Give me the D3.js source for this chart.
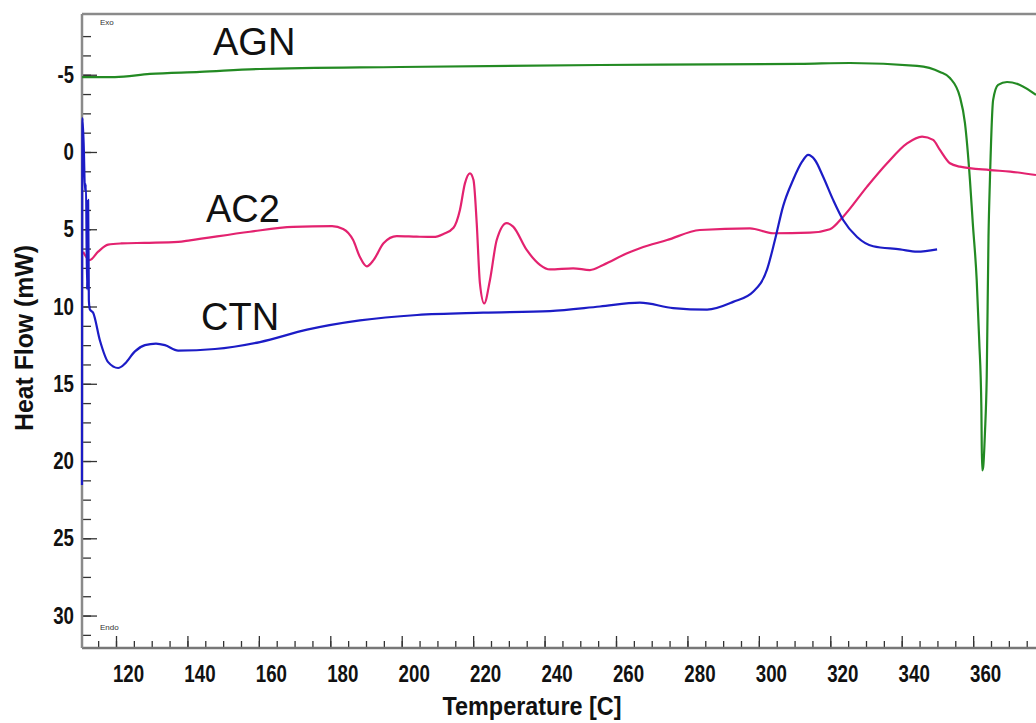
<!DOCTYPE html>
<html lang="en">
<head>
<meta charset="utf-8">
<title>DSC curves</title>
<script src="https://d3js.org/d3.v7.min.js"></script>
<style>
  body { margin: 0; background: #fff; }
  svg { display: block; }
  .tick text { font-family: "Liberation Sans", Arial, sans-serif; font-weight: bold; font-size: 23.5px; fill: #111; }
  .title { font-family: "Liberation Sans", Arial, sans-serif; font-weight: bold; fill: #111; }
  .series { font-family: "Liberation Sans", Arial, sans-serif; font-size: 38px; fill: #111; }
  .tiny { font-family: "Liberation Sans", Arial, sans-serif; font-size: 8px; fill: #333; }
</style>
</head>
<body>
<script>
// values: temperature (C) and heat flow (mW)
const agnTemp = [110.5, 119.7, 129.5, 143.5, 160.3, 199.5, 255.5, 311.5, 325.5, 344.3, 350.7, 353.5, 356.3, 357.7, 359.1, 359.9, 361.0, 361.7, 362.3, 362.5, 362.8, 363.3, 363.8, 364.3, 364.7, 365.6, 367.0, 369.5, 373.1, 377.6];
const agnFlow = [-4.85, -4.85, -5.05, -5.18, -5.37, -5.5, -5.63, -5.7, -5.76, -5.57, -5.18, -4.79, -3.56, -1.88, 1.8, 4.6, 8.3, 12.2, 16.5, 20.6, 20.4, 18.2, 14.6, 5.5, 1.8, -3.37, -4.34, -4.53, -4.34, -3.69];

const ac2Temp = [110.8, 112.6, 115.0, 117.8, 121.5, 128.0, 137.4, 140.7, 157.5, 169.6, 180.5, 183.6, 186.4, 188.3, 190.2, 192.1, 194.9, 198.6, 204.2, 208.9, 211.7, 214.5, 216.3, 217.7, 219.1, 220.1, 221.0, 221.9, 223.1, 224.7, 226.6, 229.4, 231.2, 235.0, 238.7, 241.5, 248.0, 252.7, 256.4, 263.1, 266.7, 274.3, 283.5, 297.5, 304.0, 314.3, 319.9, 323.6, 330.3, 335.9, 341.5, 345.7, 348.8, 350.7, 353.5, 356.3, 364.7, 370.4, 377.6];
const ac2Flow = [6.45, 7.0, 6.45, 6.0, 5.92, 5.88, 5.82, 5.72, 5.16, 4.85, 4.8, 4.98, 5.7, 6.8, 7.4, 7.0, 5.9, 5.44, 5.48, 5.5, 5.3, 4.9, 3.75, 2.03, 1.38, 1.81, 4.6, 8.5, 9.8, 8.3, 5.7, 4.6, 4.83, 6.34, 7.3, 7.6, 7.53, 7.64, 7.31, 6.56, 6.23, 5.7, 5.05, 4.94, 5.26, 5.22, 5.0, 4.19, 2.24, 0.73, -0.56, -1.0, -0.78, -0.13, 0.73, 0.95, 1.17, 1.27, 1.49];

const ctnTemp = [110.48, 110.6, 111.0, 111.3, 111.6, 111.9, 112.2, 112.4, 112.7, 113.6, 115.5, 117.8, 120.6, 122.5, 125.3, 128.1, 131.2, 133.7, 137.4, 147.7, 160.3, 173.5, 188.3, 204.3, 222.8, 241.5, 255.5, 266.7, 276.0, 285.5, 292.8, 298.4, 302.3, 304.5, 306.8, 309.6, 312.1, 313.8, 315.7, 318.0, 320.8, 323.6, 327.5, 332.0, 339.5, 344.3, 349.9];
const ctnFlow = [21.55, -2.2, -0.13, 2.46, 2.1, 8.9, 3.1, 9.6, 10.2, 10.4, 12.2, 13.6, 13.98, 13.7, 12.9, 12.5, 12.4, 12.5, 12.85, 12.75, 12.3, 11.5, 10.9, 10.55, 10.4, 10.3, 10.0, 9.75, 10.1, 10.2, 9.7, 9.04, 7.6, 5.7, 3.5, 1.8, 0.63, 0.19, 0.52, 1.6, 3.1, 4.4, 5.5, 6.1, 6.3, 6.45, 6.3];

const xLabels = [120, 140, 160, 180, 200, 220, 240, 260, 280, 300, 320, 340, 360];
const xMinor = d3.range(115, 376, 5);
const yLabels = [-5, 0, 5, 10, 15, 20, 25, 30];
const yMinor = d3.range(-7.5, 31.3, 1.25);

const seriesNames = ["AGN", "AC2", "CTN"];
const seriesColors = ["#238a23", "#e3226f", "#1c1cc6"];

const width = 1036, height = 723;
const plotLeft = 82, plotTop = 14, plotBottom = 648, plotRight = 1036;

const svg = d3.select("body").append("svg")
  .attr("width", width)
  .attr("height", height);

const x = d3.scaleLinear().domain([110.48, 377.6]).range([plotLeft, plotRight]);
const y = d3.scaleLinear().domain([-8.93, 32.1]).range([plotTop, plotBottom]);

// narrow numbers like the instrument software font
function squeeze(sel) {
  sel.each(function () {
    const s = this.textContent;
    const w = s.replace("-", "").length * 10.4 + (s.includes("-") ? 6 : 0);
    d3.select(this).attr("textLength", w).attr("lengthAdjust", "spacingAndGlyphs");
  });
}

// frame
svg.append("line").attr("x1", plotLeft).attr("x2", plotRight).attr("y1", plotTop).attr("y2", plotTop)
  .attr("stroke", "#8a8a8a").attr("stroke-width", 2.5);

// minor ticks
const xMinorAxis = svg.append("g").attr("transform", `translate(0,${plotBottom})`)
  .call(d3.axisBottom(x).tickValues(xMinor).tickSize(-7).tickFormat(""));
const yMinorAxis = svg.append("g").attr("transform", `translate(${plotLeft},0)`)
  .call(d3.axisLeft(y).tickValues(yMinor).tickSize(-9).tickFormat(""));

// major ticks with labels
const xAxis = svg.append("g").attr("transform", `translate(0,${plotBottom})`)
  .call(d3.axisBottom(x).tickValues(xLabels).tickSize(-12).tickPadding(17).tickFormat(d3.format("d")));
xAxis.selectAll(".tick text").attr("dx", 12).call(squeeze);
const yAxis = svg.append("g").attr("transform", `translate(${plotLeft},0)`)
  .call(d3.axisLeft(y).tickValues(yLabels).tickSize(-15).tickPadding(8).tickFormat(d => d < 0 ? "-" + Math.abs(d) : d));
yAxis.selectAll(".tick text").call(squeeze);

[xMinorAxis, yMinorAxis, xAxis, yAxis].forEach(g => {
  g.select(".domain").remove();
  g.selectAll(".tick line").attr("stroke", "#333").attr("stroke-width", 1.3);
});

// axis lines
svg.append("line").attr("x1", plotLeft).attr("x2", plotRight).attr("y1", plotBottom).attr("y2", plotBottom)
  .attr("stroke", "#777").attr("stroke-width", 2.5);
svg.append("line").attr("x1", plotLeft).attr("x2", plotLeft).attr("y1", plotTop).attr("y2", plotBottom)
  .attr("stroke", "#8a8a8a").attr("stroke-width", 2.5);

// curves
const line = d3.line()
  .x(d => x(d[0]))
  .y(d => y(d[1]))
  .curve(d3.curveMonotoneX);

const series = [
  d3.zip(agnTemp, agnFlow),
  d3.zip(ac2Temp, ac2Flow),
  d3.zip(ctnTemp, ctnFlow)
];

svg.append("g").selectAll("path")
  .data(series)
  .join("path")
  .attr("d", line)
  .attr("fill", "none")
  .attr("stroke", (d, i) => seriesColors[i])
  .attr("stroke-width", 2.2)
  .attr("stroke-linejoin", "round");

// series names
const namePos = [[213, 55], [206, 222], [201, 330]];
svg.selectAll(".series")
  .data(seriesNames)
  .join("text")
  .attr("class", "series")
  .attr("x", (d, i) => namePos[i][0])
  .attr("y", (d, i) => namePos[i][1])
  .text(d => d);

// exo / endo marks
svg.append("text").attr("class", "tiny").attr("x", 100).attr("y", 25).text("Exo");
svg.append("text").attr("class", "tiny").attr("x", 100).attr("y", 630).text("Endo");

// axis titles
svg.append("text").attr("class", "title")
  .attr("x", 532).attr("y", 715)
  .attr("text-anchor", "middle")
  .attr("textLength", 179).attr("lengthAdjust", "spacingAndGlyphs")
  .style("font-size", "25px")
  .text("Temperature [C]");

svg.append("text").attr("class", "title")
  .attr("transform", "translate(33,338) rotate(-90)")
  .attr("text-anchor", "middle")
  .attr("textLength", 186).attr("lengthAdjust", "spacingAndGlyphs")
  .style("font-size", "25px")
  .text("Heat Flow (mW)");
</script>
</body>
</html>
